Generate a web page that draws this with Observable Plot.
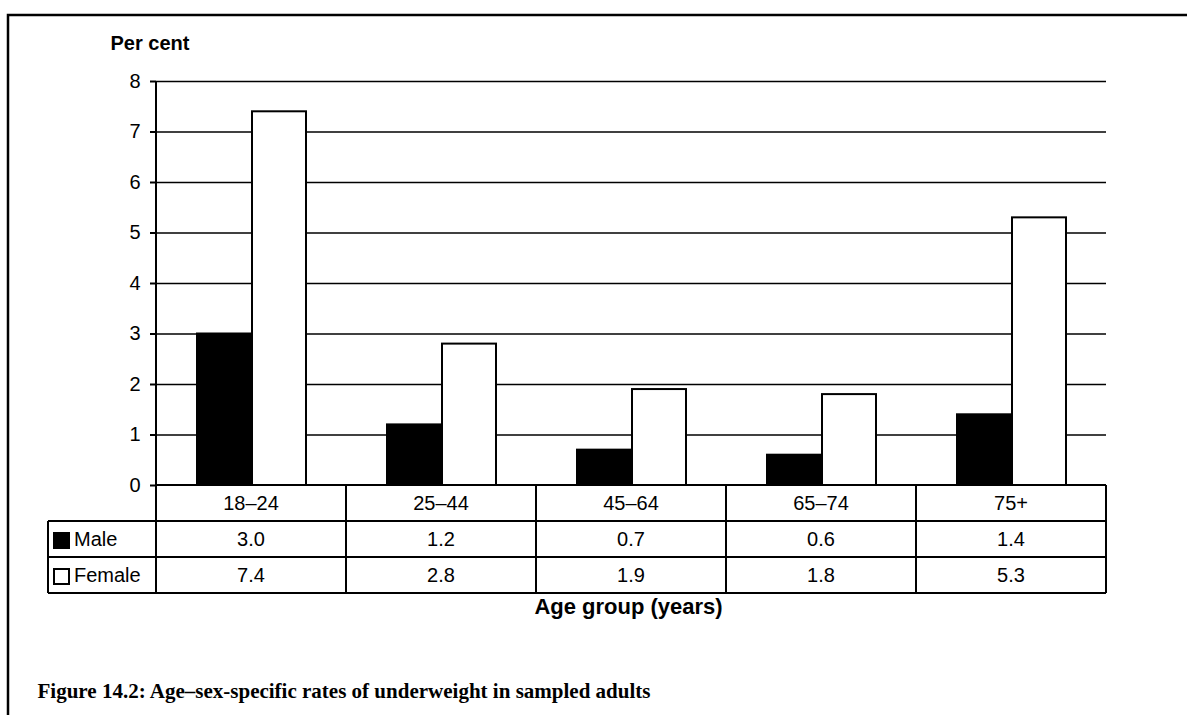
<!DOCTYPE html>
<html>
<head>
<meta charset="utf-8">
<script src="https://cdn.jsdelivr.net/npm/d3@7"></script>
<script src="https://cdn.jsdelivr.net/npm/@observablehq/plot@0.6"></script>
<style>
  html, body { margin: 0; padding: 0; background: white; }
  #chart { position: absolute; left: 0; top: 0; }
</style>
</head>
<body>
<div id="chart"></div>
<script>
const ageGroups = ["18–24", "25–44", "45–64", "65–74", "75+"];
const maleRates = [3.0, 1.2, 0.7, 0.6, 1.4];
const femaleRates = [7.4, 2.8, 1.9, 1.8, 5.3];
const yTicks = [0, 1, 2, 3, 4, 5, 6, 7, 8];
const seriesNames = ["Male", "Female"];
const yLabel = "Per cent";
const xLabel = "Age group (years)";
const caption = "Figure 14.2: Age–sex-specific rates of underweight in sampled adults";

const data = ageGroups.map((age, i) => ({age, male: maleRates[i], female: femaleRates[i]}));
const sans = "'Liberation Sans', Arial, Helvetica, sans-serif";
const serif = "'Liberation Serif', 'DejaVu Serif', serif";

const chart = Plot.plot({
  width: 1187,
  height: 715,
  marginLeft: 156,
  marginRight: 81,
  marginTop: 81,
  marginBottom: 230,
  style: {fontFamily: sans, fontSize: "20px", color: "black", background: "white", overflow: "visible"},
  x: {domain: ageGroups, padding: 0, axis: null},
  y: {domain: [0, 8], axis: null},
  marks: [
    Plot.ruleY(yTicks.filter(d => d > 0), {stroke: "black", strokeWidth: 1.6}),
    Plot.barY(data, {x: "age", y: "male", fill: "black", stroke: "black", strokeWidth: 2, insetLeft: 41, insetRight: 94}),
    Plot.barY(data, {x: "age", y: "female", fill: "white", stroke: "black", strokeWidth: 2, insetLeft: 96, insetRight: 40}),
    Plot.axisY({ticks: yTicks, tickSize: 6, tickPadding: 10, fontSize: 20, strokeWidth: 2, label: null, tickFormat: d => String(d)}),
    Plot.text([yLabel], {frameAnchor: "top-left", lineAnchor: "middle", dx: -46, dy: -38, textAnchor: "start", fontWeight: "bold", fontSize: 20}),
    Plot.text([xLabel], {frameAnchor: "bottom", lineAnchor: "middle", dx: -3, dy: 121, fontWeight: "bold", fontSize: 22}),
    Plot.text([caption], {frameAnchor: "bottom-left", lineAnchor: "middle", dx: -119, dy: 205, textAnchor: "start", fontWeight: "bold", fontSize: 22, fontFamily: serif})
  ]
});

document.getElementById("chart").appendChild(chart);

// Table, axis line and frame drawn from the chart's own scales
const xs = chart.scale("x");
const ys = chart.scale("y");
const bw = xs.bandwidth;
const x0 = xs.apply(ageGroups[0]);
const x1 = xs.apply(ageGroups[ageGroups.length - 1]) + bw;
const yTop = ys.apply(8);
const yBase = ys.apply(0);
const rowH = 36;
const legendLeft = 48;

const svg = d3.select(chart);

// make the caption span the same width as the reference
svg.selectAll("text").filter(function() { return this.textContent === caption; })
  .attr("textLength", 613).attr("lengthAdjust", "spacingAndGlyphs");

const g = svg.append("g").attr("fill", "none").attr("stroke", "black").attr("stroke-width", 2);

// y axis line
g.append("line").attr("x1", x0).attr("x2", x0).attr("y1", yTop).attr("y2", yBase);

// table horizontal lines
g.append("line").attr("x1", x0).attr("x2", x1).attr("y1", yBase).attr("y2", yBase);
for (let r = 1; r <= 3; r++) {
  g.append("line").attr("x1", legendLeft).attr("x2", x1).attr("y1", yBase + r * rowH).attr("y2", yBase + r * rowH);
}
// vertical lines
g.append("line").attr("x1", legendLeft).attr("x2", legendLeft).attr("y1", yBase + rowH).attr("y2", yBase + 3 * rowH);
ageGroups.forEach(a => {
  const xa = xs.apply(a);
  g.append("line").attr("x1", xa).attr("x2", xa).attr("y1", yBase).attr("y2", yBase + 3 * rowH);
});
g.append("line").attr("x1", x1).attr("x2", x1).attr("y1", yBase).attr("y2", yBase + 3 * rowH);

// table text
const t = svg.append("g").attr("font-family", sans).attr("font-size", 20).attr("fill", "black").attr("text-anchor", "middle");
const rows = [ageGroups, maleRates.map(v => v.toFixed(1)), femaleRates.map(v => v.toFixed(1))];
rows.forEach((row, r) => {
  row.forEach((txt, i) => {
    t.append("text")
      .attr("x", xs.apply(ageGroups[i]) + bw / 2)
      .attr("y", yBase + r * rowH + rowH / 2)
      .attr("dy", "0.36em")
      .text(txt);
  });
});

// legend cells
const fills = ["black", "white"];
seriesNames.forEach((name, k) => {
  const cy = yBase + (k + 1) * rowH + rowH / 2;
  svg.append("rect").attr("x", legendLeft + 6).attr("y", cy - 6).attr("width", 15).attr("height", 15)
    .attr("fill", fills[k]).attr("stroke", "black").attr("stroke-width", 2);
  svg.append("text").attr("x", legendLeft + 26).attr("y", cy).attr("dy", "0.36em")
    .attr("text-anchor", "start")
    .attr("font-family", sans).attr("font-size", 20).attr("fill", "black").text(name);
});

// outer frame (left and top edges; continues beyond the picture)
svg.append("path").attr("d", `M8,${715 + 5}V15H${1187 + 5}`).attr("fill", "none").attr("stroke", "black").attr("stroke-width", 2.5);
</script>
</body>
</html>
